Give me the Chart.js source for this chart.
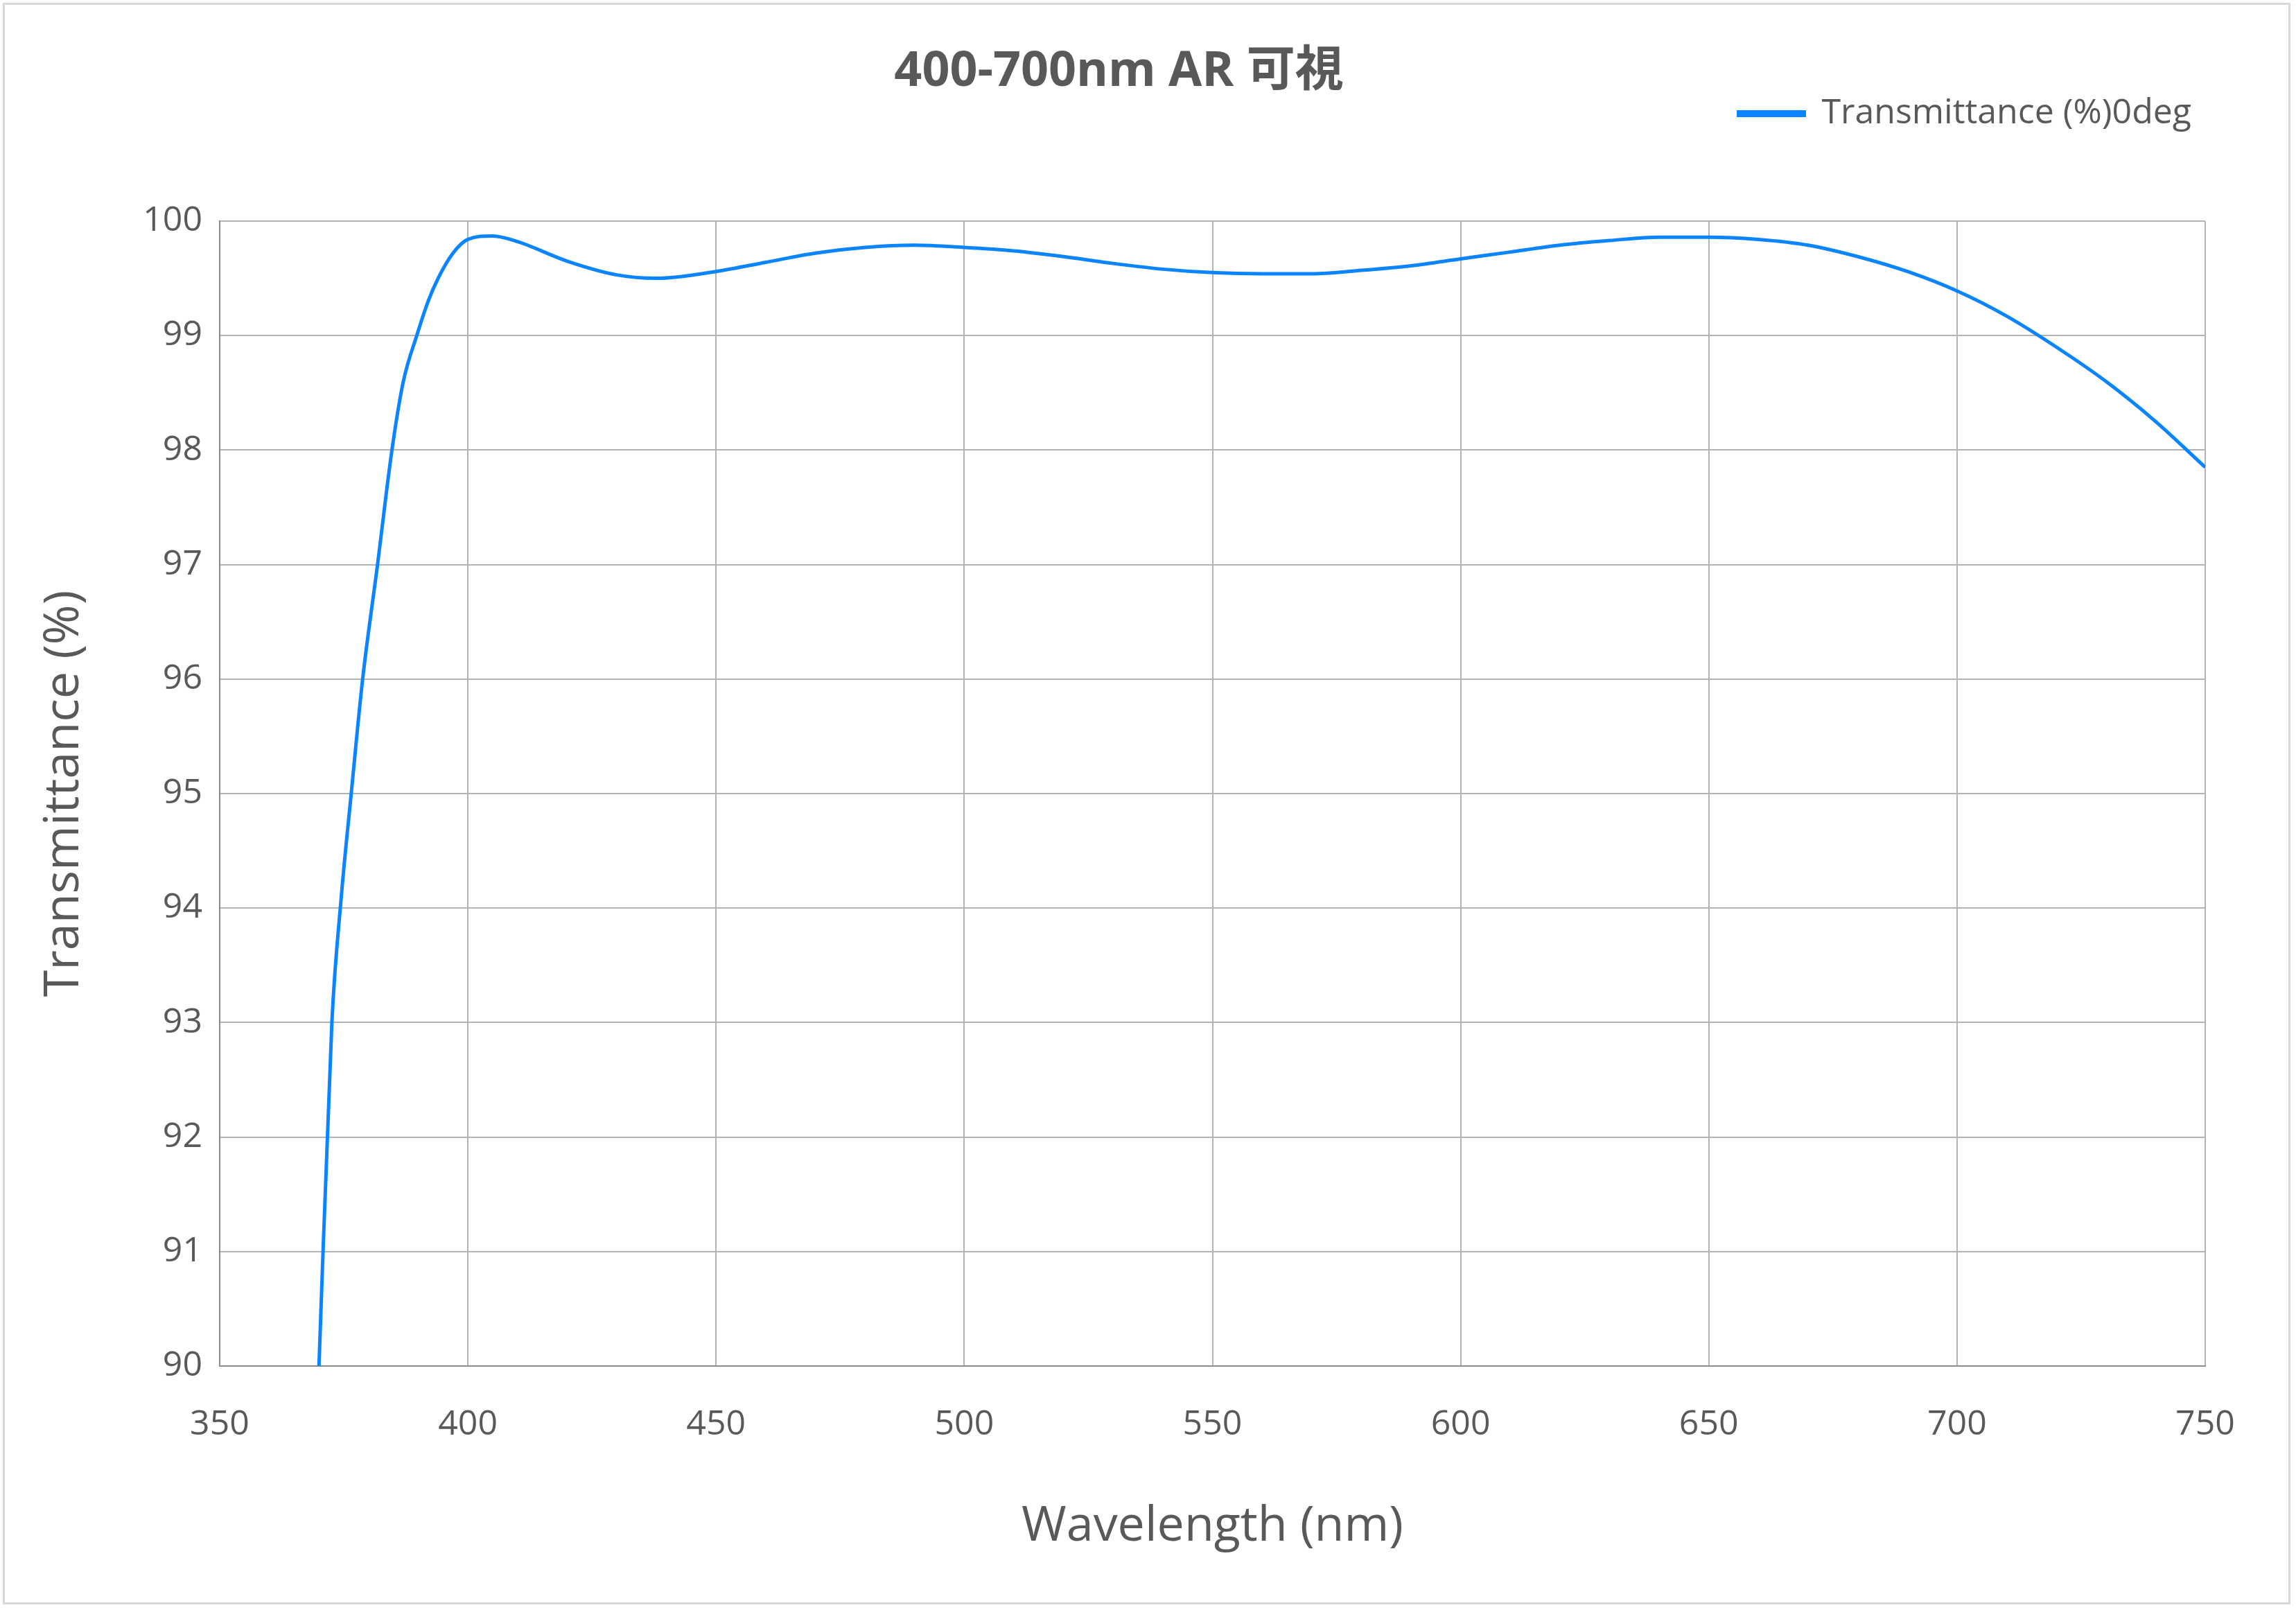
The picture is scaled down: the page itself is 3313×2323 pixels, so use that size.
<!DOCTYPE html>
<html>
<head>
<meta charset="utf-8">
<script src="https://cdn.jsdelivr.net/npm/chart.js@4"></script>
<style>
  html, body { margin: 0; padding: 0; background: #fff; }
  #wrap { position: absolute; left: 4px; top: 4px; width: 3301px; height: 2311px; border: 3px solid #d9d9d9; box-sizing: border-box; }
</style>
</head>
<body>
<div id="wrap"><canvas id="Chart"></canvas></div>
<script>
// 波长 (nm) 与透过率 (%)
const wavelength = [370, 372.6, 374.5, 376.5, 378.8, 381.8, 384.7, 387, 389.7, 392, 394, 397, 400, 405, 410, 420, 430, 438, 450, 460, 470, 480, 490, 500, 510, 520, 530, 540, 550, 560, 570, 580, 590, 600, 610, 620, 630, 640, 650, 660, 670, 680, 690, 700, 710, 720, 730, 740, 750];
const transmittance = [90, 93, 94.1, 95, 96, 97, 98, 98.6, 99, 99.3, 99.5, 99.72, 99.84, 99.87, 99.82, 99.65, 99.53, 99.5, 99.56, 99.64, 99.72, 99.77, 99.79, 99.77, 99.74, 99.69, 99.63, 99.58, 99.55, 99.54, 99.54, 99.57, 99.61, 99.67, 99.73, 99.79, 99.83, 99.86, 99.86, 99.84, 99.79, 99.69, 99.56, 99.39, 99.17, 98.9, 98.6, 98.25, 97.85];
const chartTitle = '400-700nm AR 可視';
const seriesName = 'Transmittance (%)0deg';

const textColor = '#595959';
const gridColor = '#b3b3b3';
const fontFamily = '"Open Sans", "Noto Sans CJK JP", sans-serif';

// 图例下方留出额外空白
const legendGap = {
    id: 'legendGap',
    beforeUpdate(chart) {
        const lg = chart.legend;
        if (lg && !lg._gapPatched) {
            const fit = lg.fit;
            lg.fit = function() { fit.call(this); this.height += 120; };
            lg._gapPatched = true;
        }
    }
};

const ctx = document.getElementById('Chart');
const chart = new Chart(ctx, {
    type: 'line',
    data: {
        datasets: [{
            label: seriesName,
            data: wavelength.map((w, i) => ({ x: w, y: transmittance[i] })),
            borderColor: '#0a84ff',
            backgroundColor: '#0a84ff',
            borderWidth: 5,
            pointRadius: 0,
            tension: 0.4,
            cubicInterpolationMode: 'monotone',
            fill: false,
        }]
    },
    options: {
        responsive: true,
        maintainAspectRatio: false,
        animation: false,
        layout: { padding: { left: 40, right: 120, top: 0, bottom: 63 } },
        plugins: {
            title: {
                display: true,
                text: chartTitle,
                color: textColor,
                font: { family: fontFamily, size: 70, weight: 'bold' },
                padding: { top: 55, bottom: -27 }
            },
            legend: {
                display: true,
                align: 'end',
                labels: {
                    color: textColor,
                    font: { family: fontFamily, size: 50 },
                    boxWidth: 95,
                    boxHeight: 5,
                    padding: 20
                }
            },
            tooltip: { enabled: false }
        },
        scales: {
            x: {
                type: 'linear',
                min: 350,
                max: 750,
                ticks: { stepSize: 50, color: textColor, font: { family: fontFamily, size: 50 }, padding: 55 },
                grid: { color: gridColor, lineWidth: 2, drawTicks: false },
                border: { color: '#8c8c8c', width: 2 },
                title: { display: true, text: 'Wavelength (nm)', color: textColor, font: { family: fontFamily, size: 70 }, padding: { top: 20 } }
            },
            y: {
                min: 90,
                max: 100,
                ticks: { stepSize: 1, color: textColor, font: { family: fontFamily, size: 50 }, padding: 25 },
                grid: { color: gridColor, lineWidth: 2, drawTicks: false },
                border: { color: '#8c8c8c', width: 2 },
                title: { display: true, text: 'Transmittance (%)', color: textColor, font: { family: fontFamily, size: 70 }, padding: { bottom: 10 } },
                afterFit: function(scale) { scale.width = 270; }
            }
        }
    },
    plugins: [legendGap]
});
</script>
</body>
</html>
